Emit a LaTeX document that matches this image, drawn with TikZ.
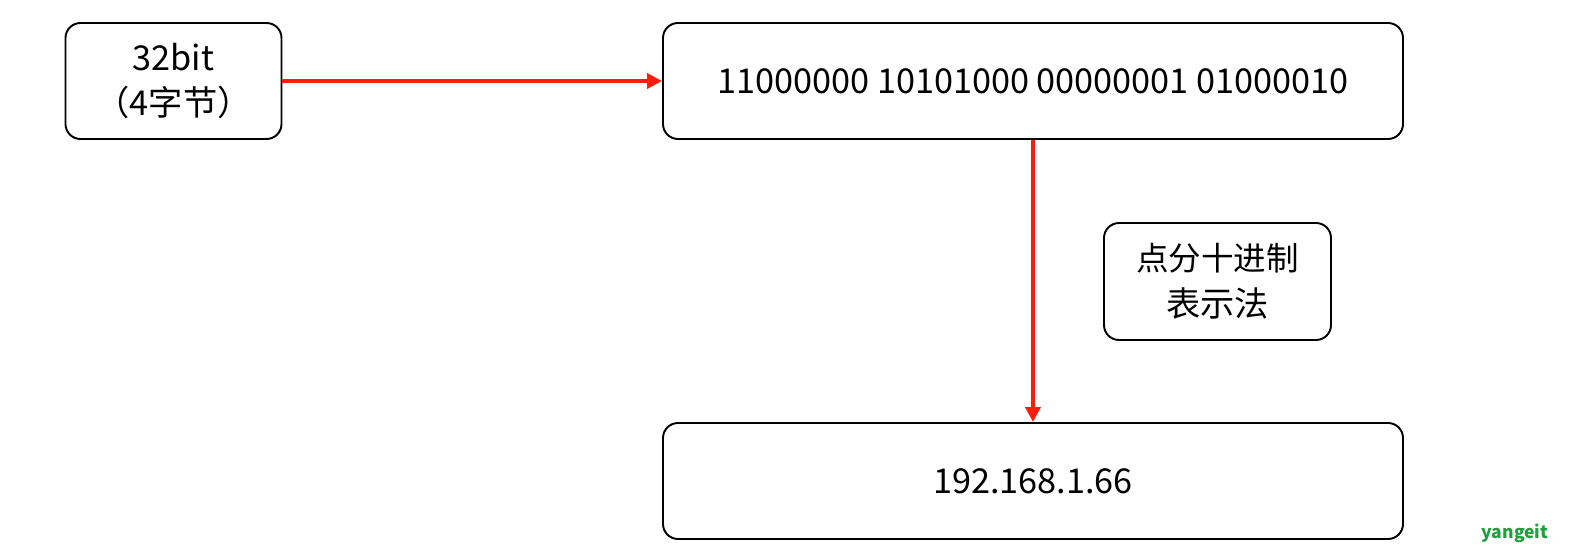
\documentclass[tikz,border=0pt]{standalone}
\usepackage{fontspec}
\setmainfont{Noto Sans CJK SC}
\usepackage{tikz}
\usetikzlibrary{arrows.meta}
\definecolor{arrowred}{RGB}{250, 30, 10}
\definecolor{markgreen}{RGB}{30, 160, 60}
\tikzset{
    roundbox/.style={draw=black, line width=1.1pt, rounded corners=0.3cm, align=center, inner sep=0pt},
    redarrow/.style={draw=arrowred, line width=2.4pt, -{Triangle[length=0.3cm, width=0.3cm]}}
}

\begin{document}
\begin{tikzpicture}[font=\fontsize{19.5}{26}\selectfont]
            \useasboundingbox (0.00, 0.00) rectangle (31.42, -11.06);
            \node[roundbox, minimum width=4.32cm,  minimum height=2.32cm] (bits)   at ( 3.47, -1.62) {32bit\\（4字节）};
            \node[roundbox, minimum width=14.80cm, minimum height=2.32cm] (binary) at (20.66, -1.62) {11000000 10101000 00000001 01000010};
            \node[roundbox, minimum width=14.80cm, minimum height=2.32cm] (dotted) at (20.66, -9.62) {192.168.1.66};
            \node[roundbox, minimum width=4.54cm,  minimum height=2.34cm] (method) at (24.35, -5.63) {\fontsize{18.5}{26}\selectfont 点分十进制\\表示法};
            \node[color=markgreen, font=\bfseries\fontsize{10}{12}\selectfont] (mark) at (30.30, -10.66) {yangeit};
            \draw[redarrow] (bits.east) -- (binary.west);
            \draw[redarrow] (binary.south) -- (dotted.north);
        \end{tikzpicture}
\end{document}
